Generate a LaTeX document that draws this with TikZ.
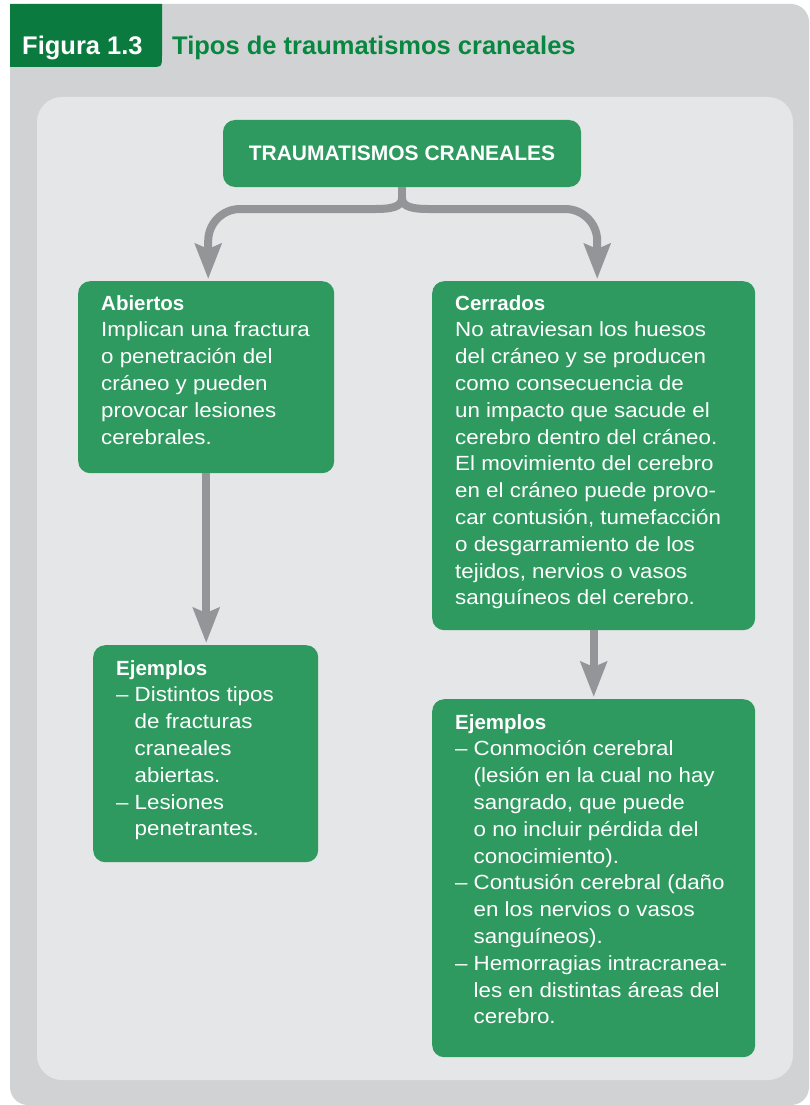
\documentclass[tikz,border=0pt]{standalone}
\usepackage{fontspec}
\setmainfont{Liberation Sans}
\newfontfamily\bodyfont[FakeStretch=1.09]{Liberation Sans}
\usetikzlibrary{arrows.meta}
\usetikzlibrary{positioning}

\definecolor{boxgreen}{RGB}{46,154,96}
\definecolor{tabgreen}{RGB}{10,122,62}
\definecolor{titlegreen}{RGB}{8,135,64}
\definecolor{outergray}{RGB}{209,210,212}
\definecolor{panelgray}{RGB}{229,230,232}
\definecolor{arrowgray}{RGB}{147,149,152}

\newcommand{\boxhead}[1]{{\rmfamily\bfseries #1}}
\newcommand{\dashitem}{\makebox[18.5pt][l]{–}}
\newcommand{\itemgap}{\hspace*{18.5pt}}

\begin{document}
\begin{tikzpicture}[x=1pt,y=-1pt,
  gbox/.style={fill=boxgreen,rounded corners=12pt,anchor=north west,inner sep=0pt},
  gtext/.style={text=white,align=left,anchor=north west,inner sep=0pt,
    font=\bodyfont\fontsize{20.5}{26.8}\selectfont},
  conn/.style={draw=arrowgray,line width=8pt},
  tip/.style={-{Stealth[length=35pt,width=26pt,inset=5pt]},shorten >=2pt}]
 \useasboundingbox (0,0) rectangle (809,1105);
 % background and heading
 \fill[outergray,rounded corners=18pt](10,4) rectangle (809,1105);
 \fill[tabgreen](10,4)--(162,4)--(162,55) .. controls (162,67) .. (150,67)--(10,67)--cycle;
 \node[anchor=base west,inner sep=0pt,text=white,font=\bfseries\fontsize{25.5}{30}\selectfont] (fignum) at (22,55) {Figura 1.3};
 \node[anchor=base west,inner sep=0pt,text=titlegreen,font=\bfseries\fontsize{25.5}{30}\selectfont] (figtitle) at (172,55) {Tipos de traumatismos craneales};
 \fill[panelgray,rounded corners=25pt](37,97) rectangle (793,1080);

 % boxes
 \node[gbox,anchor=center,minimum width=358pt,minimum height=67pt,text=white,font=\bfseries\fontsize{21}{25}\selectfont] (top) at (402,153.5) {TRAUMATISMOS CRANEALES};
 \node[gbox,minimum width=256pt,minimum height=192pt] (abiertos) at (78,281) {};
 \node[gbox,minimum width=323pt,minimum height=349pt] (cerrados) at (432,281) {};
 \node[gbox,minimum width=225pt,minimum height=217pt] (ejA) at (93,645) {};
 \node[gbox,minimum width=323pt,minimum height=358pt] (ejC) at (432,699) {};

 % texts
 \node[gtext] (abiertos text) at ([shift={(23,14)}]abiertos.north west) {\boxhead{Abiertos}\\
  Implican una fractura\\ o penetración del\\ cráneo y pueden\\ provocar lesiones\\ cerebrales.};
 \node[gtext] (cerrados text) at ([shift={(23,14)}]cerrados.north west) {\boxhead{Cerrados}\\
  No atraviesan los huesos\\ del cráneo y se producen\\ como consecuencia de\\
  un impacto que sacude el\\ cerebro dentro del cráneo.\\ El movimiento del cerebro\\
  en el cráneo puede provo-\\ car contusión, tumefacción\\ o desgarramiento de los\\
  tejidos, nervios o vasos\\ sanguíneos del cerebro.};
 \node[gtext] (ejA text) at ([shift={(23,15)}]ejA.north west) {\boxhead{Ejemplos}\\
  \dashitem Distintos tipos\\ \itemgap de fracturas\\ \itemgap craneales\\ \itemgap abiertas.\\
  \dashitem Lesiones\\ \itemgap penetrantes.};
 \node[gtext] (ejC text) at ([shift={(23,15)}]ejC.north west) {\boxhead{Ejemplos}\\
  \dashitem Conmoción cerebral\\ \itemgap (lesión en la cual no hay\\ \itemgap sangrado, que puede\\
  \itemgap o no incluir pérdida del\\ \itemgap conocimiento).\\
  \dashitem Contusión cerebral (daño\\ \itemgap en los nervios o vasos\\ \itemgap sanguíneos).\\
  \dashitem Hemorragias intracranea-\\ \itemgap les en distintas áreas del\\ \itemgap cerebro.};

 % connectors
 \draw[conn](top.south)--++(0,11) coordinate (cusp);
 \draw[conn](cusp) .. controls +(0,9) and +(14,0) .. (376,209) coordinate (bl);
 \draw[conn](cusp) .. controls +(0,9) and +(-14,0) .. (428,209) coordinate (br);
 \draw[conn,tip,rounded corners=32pt](bl) -| ([xshift=2pt]abiertos.north);
 \draw[conn,tip,rounded corners=32pt](br) -| ([xshift=3.5pt]cerrados.north);
 \draw[conn,tip](abiertos.south)--(abiertos.south |- ejA.north);
 \draw[conn,tip](cerrados.south)--(cerrados.south |- ejC.north);
\end{tikzpicture}
\end{document}
